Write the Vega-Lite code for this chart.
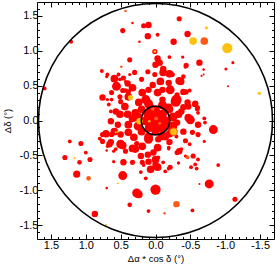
{
"$schema":"https://vega.github.io/schema/vega-lite/v6.json",
"width":237,"height":237,
"autosize":"none",
"padding":{"left":37,"top":2,"right":3,"bottom":28},
"config":{"view":{"stroke":null},"font":"Liberation Sans","locale":{"number":{"decimal":".","thousands":",","grouping":[3],"currency":["$",""],"minus":"-"}},
"axis":{"grid":false,"domainColor":"black","tickColor":"black","labelColor":"black","titleColor":"black","labelFontSize":11,"titleFontSize":9.5,"titleFontWeight":"normal","labelFlush":false,"tickWidth":1,"domainWidth":1}},
"datasets":{
"stars":[
{"x":1.21,"y":1.13,"m":1.5,"c":"r"},{"x":1.59,"y":0.46,"m":1.5,"c":"r"},{"x":0.33,"y":1.40,"m":1,"c":"r"},{"x":0.47,"y":1.29,"m":2,"c":"r"},{"x":0.37,"y":0.87,"m":2,"c":"r"},{"x":0.23,"y":1.13,"m":1,"c":"r"},{"x":0.77,"y":0.71,"m":1.5,"c":"r"},{"x":0.70,"y":0.63,"m":1.3,"c":"r"},{"x":0.59,"y":0.60,"m":3,"c":"r"},{"x":0.56,"y":0.49,"m":3.5,"c":"r"},{"x":0.43,"y":0.56,"m":1.2,"c":"r"},{"x":0.43,"y":0.43,"m":1.8,"c":"r"},{"x":0.76,"y":0.33,"m":2.5,"c":"r"},{"x":0.63,"y":0.30,"m":1.5,"c":"r"},{"x":0.51,"y":0.34,"m":2,"c":"r"},
{"x":0.17,"y":1.36,"m":2,"c":"r"},{"x":0.10,"y":1.37,"m":2.5,"c":"r"},{"x":-0.34,"y":1.46,"m":2,"c":"r"},{"x":0.11,"y":1.21,"m":2.5,"c":"r"},{"x":-0.03,"y":1.23,"m":1.5,"c":"r"},{"x":-0.46,"y":1.24,"m":2.5,"c":"r"},{"x":-0.26,"y":1.13,"m":2.5,"c":"r"},{"x":0.01,"y":0.99,"m":2,"c":"r"},{"x":-0.20,"y":0.91,"m":1.5,"c":"r"},{"x":-0.39,"y":0.91,"m":1.3,"c":"r"},{"x":-0.63,"y":0.83,"m":2.5,"c":"r"},{"x":-1.11,"y":0.83,"m":1.2,"c":"r"},{"x":-0.03,"y":0.89,"m":2.5,"c":"r"},{"x":-0.06,"y":0.83,"m":2.5,"c":"r"},{"x":-0.43,"y":0.77,"m":1.5,"c":"r"},{"x":-0.69,"y":0.73,"m":1,"c":"r"},{"x":-1.01,"y":0.74,"m":1.2,"c":"r"},{"x":-0.66,"y":0.64,"m":0.8,"c":"r"},{"x":-1.04,"y":0.49,"m":0.8,"c":"r"},{"x":-0.34,"y":0.57,"m":3,"c":"r"},{"x":-0.20,"y":0.67,"m":3,"c":"r"},{"x":-0.11,"y":0.74,"m":2.5,"c":"r"},{"x":-0.44,"y":0.41,"m":2,"c":"r"},{"x":-0.49,"y":0.43,"m":1.5,"c":"r"},{"x":-0.30,"y":0.30,"m":4,"c":"r"},{"x":-0.47,"y":0.20,"m":2.5,"c":"r"},{"x":-0.57,"y":0.24,"m":2.5,"c":"r"},{"x":-0.61,"y":0.19,"m":1.5,"c":"r"},{"x":-0.37,"y":0.13,"m":2.5,"c":"r"},{"x":-0.70,"y":0.03,"m":1.5,"c":"r"},{"x":-0.50,"y":0.01,"m":3.5,"c":"r"},{"x":-0.83,"y":-0.13,"m":3.5,"c":"r"},
{"x":-0.43,"y":-0.29,"m":2,"c":"r"},{"x":-0.30,"y":-0.23,"m":1.5,"c":"r"},{"x":-0.70,"y":-0.30,"m":1.2,"c":"r"},{"x":-0.20,"y":-0.31,"m":2.5,"c":"r"},{"x":-0.34,"y":-0.44,"m":2.5,"c":"r"},{"x":-0.37,"y":-0.41,"m":1.5,"c":"r"},{"x":-0.49,"y":-0.34,"m":1.5,"c":"r"},{"x":-0.61,"y":-0.56,"m":1.5,"c":"r"},{"x":-0.59,"y":-0.69,"m":1.5,"c":"r"},{"x":-0.51,"y":-0.67,"m":1.5,"c":"r"},{"x":-0.33,"y":-0.61,"m":1.3,"c":"r"},{"x":-0.19,"y":-0.41,"m":1.2,"c":"r"},{"x":-0.19,"y":-0.69,"m":1.5,"c":"r"},{"x":-0.90,"y":-0.64,"m":1.5,"c":"r"},{"x":-0.63,"y":-0.91,"m":0.8,"c":"r"},{"x":-0.77,"y":-0.91,"m":3.5,"c":"r"},{"x":0.00,"y":-0.99,"m":4,"c":"r"},{"x":0.24,"y":-1.06,"m":3,"c":"r"},{"x":-0.53,"y":-1.29,"m":1.5,"c":"r"},{"x":0.10,"y":-1.30,"m":1.5,"c":"r"},{"x":-1.14,"y":-1.13,"m":2,"c":"r"},{"x":0.17,"y":-0.64,"m":1.5,"c":"r"},{"x":0.27,"y":-0.33,"m":2,"c":"r"},
{"x":1.23,"y":-0.30,"m":1.5,"c":"r"},{"x":1.07,"y":-0.33,"m":2,"c":"r"},{"x":1.30,"y":-0.53,"m":2,"c":"r"},{"x":1.00,"y":-0.46,"m":1.5,"c":"r"},{"x":1.09,"y":-0.60,"m":1.8,"c":"r"},{"x":0.94,"y":-0.56,"m":2,"c":"r"},{"x":1.13,"y":-0.77,"m":2.8,"c":"r"},{"x":0.47,"y":-0.79,"m":3.5,"c":"r"},{"x":0.70,"y":-0.97,"m":1,"c":"r"},{"x":0.27,"y":-1.04,"m":3.5,"c":"r"},{"x":0.37,"y":-1.21,"m":1.8,"c":"r"},{"x":0.87,"y":-1.34,"m":2.5,"c":"r"},{"x":0.71,"y":-0.19,"m":3,"c":"r"},{"x":0.59,"y":-0.16,"m":3,"c":"r"},{"x":0.80,"y":-0.26,"m":1.5,"c":"r"},{"x":0.76,"y":-0.30,"m":2,"c":"r"},{"x":0.66,"y":-0.34,"m":2.5,"c":"r"},{"x":0.60,"y":-0.44,"m":1.3,"c":"r"},{"x":0.70,"y":-0.43,"m":1,"c":"r"},{"x":0.47,"y":-0.36,"m":3,"c":"r"},{"x":0.33,"y":-0.40,"m":3,"c":"r"},
{"x":0.69,"y":0.66,"m":1.5,"c":"r"},{"x":0.53,"y":0.66,"m":1.5,"c":"r"},{"x":0.51,"y":0.59,"m":1.5,"c":"r"},{"x":0.46,"y":0.61,"m":2,"c":"r"},{"x":0.40,"y":0.53,"m":2.5,"c":"r"},{"x":0.37,"y":0.66,"m":1.2,"c":"r"},{"x":0.30,"y":0.69,"m":2,"c":"r"},{"x":0.20,"y":0.59,"m":2,"c":"r"},{"x":0.33,"y":0.47,"m":3,"c":"r"},{"x":0.39,"y":0.41,"m":2,"c":"r"},{"x":0.47,"y":0.43,"m":2,"c":"r"},{"x":0.63,"y":0.40,"m":2,"c":"r"},{"x":0.69,"y":0.30,"m":1.3,"c":"r"},{"x":0.50,"y":0.27,"m":2,"c":"r"},{"x":0.39,"y":0.34,"m":3,"c":"r"},{"x":0.19,"y":0.40,"m":3,"c":"r"},{"x":0.10,"y":0.44,"m":2.5,"c":"r"},{"x":0.04,"y":0.51,"m":2.5,"c":"r"},{"x":0.01,"y":0.66,"m":2,"c":"r"},{"x":0.11,"y":0.70,"m":2,"c":"r"},{"x":0.00,"y":0.80,"m":2.5,"c":"r"},{"x":0.24,"y":0.26,"m":3,"c":"r"},{"x":0.14,"y":0.30,"m":3.5,"c":"r"},{"x":0.07,"y":0.19,"m":3,"c":"r"},{"x":0.44,"y":0.20,"m":3,"c":"r"},{"x":0.57,"y":0.13,"m":2.5,"c":"r"},{"x":0.67,"y":0.23,"m":1.5,"c":"r"},{"x":0.64,"y":0.13,"m":1.5,"c":"r"},{"x":0.51,"y":0.09,"m":3,"c":"r"},{"x":0.40,"y":0.09,"m":3,"c":"r"},{"x":0.29,"y":0.11,"m":3,"c":"r"},{"x":0.33,"y":0.03,"m":3,"c":"r"},
{"x":-0.04,"y":0.83,"m":2,"c":"r"},{"x":-0.44,"y":0.79,"m":2,"c":"r"},{"x":-0.11,"y":0.69,"m":3,"c":"r"},{"x":-0.24,"y":0.66,"m":2,"c":"r"},{"x":-0.40,"y":0.63,"m":1.8,"c":"r"},{"x":-0.69,"y":0.66,"m":0.8,"c":"r"},{"x":-0.36,"y":0.56,"m":3,"c":"r"},{"x":-0.07,"y":0.56,"m":3,"c":"r"},{"x":-0.19,"y":0.54,"m":2.5,"c":"r"},{"x":-0.21,"y":0.44,"m":3.5,"c":"r"},{"x":-0.10,"y":0.44,"m":2.5,"c":"r"},{"x":-0.40,"y":0.41,"m":2.5,"c":"r"},{"x":-0.31,"y":0.37,"m":2,"c":"r"},{"x":-0.29,"y":0.27,"m":4,"c":"r"},{"x":-0.46,"y":0.26,"m":2.5,"c":"r"},{"x":-0.56,"y":0.23,"m":2,"c":"r"},{"x":-0.60,"y":0.17,"m":2,"c":"r"},{"x":-0.40,"y":0.19,"m":2.5,"c":"r"},{"x":-0.19,"y":0.19,"m":3,"c":"r"},{"x":-0.61,"y":0.11,"m":1.5,"c":"r"},{"x":-0.47,"y":0.04,"m":3,"c":"r"},{"x":-0.33,"y":0.09,"m":3,"c":"r"},{"x":-0.10,"y":0.30,"m":2.5,"c":"r"},{"x":-0.03,"y":0.40,"m":3,"c":"r"},
{"x":0.64,"y":-0.01,"m":2.5,"c":"r"},{"x":0.54,"y":-0.06,"m":2.5,"c":"r"},{"x":0.39,"y":-0.06,"m":3,"c":"r"},{"x":0.76,"y":-0.20,"m":2,"c":"r"},{"x":0.63,"y":-0.20,"m":2,"c":"r"},{"x":0.50,"y":-0.20,"m":2.5,"c":"r"},{"x":0.39,"y":-0.17,"m":3,"c":"r"},{"x":0.31,"y":-0.24,"m":3,"c":"r"},{"x":0.64,"y":-0.31,"m":2.5,"c":"r"},{"x":0.50,"y":-0.34,"m":3.5,"c":"r"},{"x":0.69,"y":-0.37,"m":1.3,"c":"r"},{"x":0.57,"y":-0.41,"m":1.5,"c":"r"},{"x":0.43,"y":-0.44,"m":2,"c":"r"},{"x":0.29,"y":-0.41,"m":3,"c":"r"},{"x":0.19,"y":-0.37,"m":3,"c":"r"},{"x":0.10,"y":-0.27,"m":3.5,"c":"r"},{"x":0.21,"y":-0.51,"m":2.5,"c":"r"},{"x":0.11,"y":-0.49,"m":2.5,"c":"r"},{"x":0.03,"y":-0.46,"m":2.5,"c":"r"},{"x":0.60,"y":-0.59,"m":1.3,"c":"r"},{"x":0.46,"y":-0.60,"m":2.5,"c":"r"},{"x":0.33,"y":-0.60,"m":2,"c":"r"},{"x":0.19,"y":-0.60,"m":2,"c":"r"},{"x":0.10,"y":-0.59,"m":2.5,"c":"r"},{"x":0.07,"y":-0.70,"m":3,"c":"r"},{"x":0.00,"y":-0.63,"m":2.5,"c":"r"},{"x":0.21,"y":-0.74,"m":1.5,"c":"r"},{"x":0.14,"y":-0.83,"m":1.5,"c":"r"},
{"x":-0.04,"y":-0.06,"m":3,"c":"r"},{"x":-0.31,"y":-0.03,"m":2.5,"c":"r"},{"x":-0.61,"y":-0.06,"m":2.5,"c":"r"},{"x":-0.71,"y":-0.03,"m":1.5,"c":"r"},{"x":-0.19,"y":-0.09,"m":2.5,"c":"r"},{"x":-0.40,"y":-0.16,"m":2.5,"c":"r"},{"x":-0.53,"y":-0.17,"m":2,"c":"r"},{"x":-0.61,"y":-0.20,"m":2,"c":"r"},{"x":-0.14,"y":-0.23,"m":3,"c":"r"},{"x":-0.04,"y":-0.27,"m":2.5,"c":"r"},{"x":-0.03,"y":-0.39,"m":3,"c":"r"},{"x":-0.19,"y":-0.39,"m":1.5,"c":"r"},{"x":-0.31,"y":-0.46,"m":2,"c":"r"},{"x":-0.43,"y":-0.51,"m":1.3,"c":"r"},{"x":-0.54,"y":-0.51,"m":2,"c":"r"},{"x":-0.57,"y":-0.63,"m":1.5,"c":"r"},{"x":-0.04,"y":-0.53,"m":1.5,"c":"r"},{"x":-0.11,"y":-0.60,"m":1.5,"c":"r"},{"x":-0.21,"y":-0.67,"m":2,"c":"r"},{"x":-0.14,"y":-0.73,"m":1.5,"c":"r"},{"x":-0.03,"y":-0.67,"m":3,"c":"r"},{"x":0.00,"y":-0.56,"m":3,"c":"r"},
{"x":0,"y":0,"m":4,"c":"r"},{"x":0.11,"y":0.09,"m":3.5,"c":"r"},{"x":-0.10,"y":0.09,"m":3.5,"c":"r"},{"x":0.09,"y":-0.10,"m":3.5,"c":"r"},{"x":-0.09,"y":-0.10,"m":3.5,"c":"r"},{"x":0.16,"y":-0.01,"m":3,"c":"r"},{"x":-0.16,"y":0.00,"m":3,"c":"r"},{"x":0.00,"y":0.16,"m":3,"c":"r"},{"x":0.00,"y":-0.16,"m":3,"c":"r"},{"x":0.20,"y":0.16,"m":3,"c":"r"},{"x":-0.20,"y":0.16,"m":3,"c":"r"},{"x":0.20,"y":-0.16,"m":3,"c":"r"},{"x":-0.20,"y":-0.19,"m":3,"c":"r"},
{"x":0.05,"y":0.05,"m":4,"c":"r"},{"x":-0.05,"y":0.05,"m":4,"c":"r"},{"x":0.05,"y":-0.05,"m":4,"c":"r"},{"x":-0.05,"y":-0.05,"m":4,"c":"r"},{"x":0.12,"y":0.00,"m":4,"c":"r"},{"x":-0.12,"y":0.00,"m":4,"c":"r"},{"x":0.00,"y":0.12,"m":4,"c":"r"},{"x":0.00,"y":-0.12,"m":4,"c":"r"},{"x":0.25,"y":0.05,"m":3.5,"c":"r"},{"x":-0.25,"y":0.05,"m":3.5,"c":"r"},{"x":0.25,"y":-0.08,"m":3.5,"c":"r"},{"x":-0.25,"y":-0.08,"m":3.5,"c":"r"},{"x":0.10,"y":0.24,"m":3.5,"c":"r"},{"x":-0.10,"y":0.22,"m":3.5,"c":"r"},{"x":0.10,"y":-0.24,"m":3.5,"c":"r"},{"x":-0.10,"y":-0.22,"m":3.5,"c":"r"},
{"x":0.43,"y":1.57,"m":1,"c":"o"},{"x":0.49,"y":0.77,"m":1,"c":"o"},{"x":-0.70,"y":1.14,"m":3,"c":"o"},{"x":-0.26,"y":-0.16,"m":3.3,"c":"o"},{"x":-0.46,"y":-0.53,"m":1.5,"c":"o"},{"x":-0.30,"y":-1.20,"m":2.5,"c":"o"},{"x":-0.13,"y":-1.33,"m":1,"c":"o"},{"x":0.96,"y":-0.83,"m":1.8,"c":"o"},{"x":0.04,"y":0.17,"m":1.5,"c":"o"},{"x":-0.01,"y":0.03,"m":1.5,"c":"o"},{"x":-0.06,"y":-0.04,"m":1.2,"c":"o"},
{"x":0.36,"y":0.33,"m":2,"c":"y"},{"x":-0.73,"y":1.33,"m":1.2,"c":"y"},{"x":-0.54,"y":1.14,"m":3,"c":"y"},{"x":-1.03,"y":1.04,"m":4,"c":"y"},{"x":0.01,"y":0.99,"m":1,"c":"y"},{"x":-1.49,"y":0.39,"m":1.3,"c":"y"},{"x":-0.26,"y":-0.16,"m":2.5,"c":"y"},{"x":0.23,"y":-0.01,"m":2.5,"c":"y"},{"x":1.16,"y":-0.54,"m":0.8,"c":"y"},{"x":0.54,"y":-0.90,"m":0.8,"c":"y"},{"x":0.71,"y":-1.50,"m":0.8,"c":"y"},{"x":0.54,"y":-0.16,"m":0.8,"c":"y"},{"x":0.57,"y":-0.17,"m":0.8,"c":"y"},{"x":0.09,"y":-0.01,"m":1,"c":"y"}
],
"origin":[{"x":0,"y":0}]
},
"resolve":{"axis":{"x":"independent","y":"independent"}},
"layer":[
{"data":{"name":"stars"},"transform":[{"filter":"datum.c === 'r'"}],
"mark":{"type":"point","shape":"circle","filled":true,"opacity":1,"strokeWidth":0},
"encoding":{
"x":{"field":"x","type":"quantitative","scale":{"domain":[-1.7,1.7],"reverse":true,"nice":false,"zero":false},
"axis":{"orient":"bottom","values":[-1.5,-1,-0.5,0,0.5,1,1.5],"format":".1f","tickSize":-5,"labelPadding":5,"title":"Δα * cos δ (°)","titlePadding":3}},
"y":{"field":"y","type":"quantitative","scale":{"domain":[-1.7,1.7],"nice":false,"zero":false},
"axis":{"orient":"left","values":[-1.5,-1,-0.5,0,0.5,1,1.5],"format":".1f","tickSize":-5,"labelPadding":4,"title":"Δδ (°)","titlePadding":7}},
"size":{"field":"m","type":"quantitative","scale":{"type":"pow","exponent":2,"domain":[0,4],"range":[0,105]},"legend":null},
"color":{"field":"c","type":"nominal","scale":{"domain":["r","o","y"],"range":["#ff0000","#ff5a1a","#ffc010"]},"legend":null}}},
{"data":{"name":"stars"},"transform":[{"filter":"datum.c !== 'r'"}],
"mark":{"type":"point","shape":"circle","filled":true,"opacity":1,"strokeWidth":0},
"encoding":{
"x":{"field":"x","type":"quantitative","axis":{"orient":"top","values":[-1.5,-1,-0.5,0,0.5,1,1.5],"tickSize":-5,"labels":false,"title":null}},
"y":{"field":"y","type":"quantitative","axis":{"orient":"right","values":[-1.5,-1,-0.5,0,0.5,1,1.5],"tickSize":-5,"labels":false,"title":null}},
"size":{"field":"m","type":"quantitative","legend":null},
"color":{"field":"c","type":"nominal","legend":null}}},
{"data":{"name":"origin"},
"mark":{"type":"point","shape":"circle","filled":false,"color":"black","opacity":1,"strokeWidth":1.6,"size":54756},
"encoding":{
"x":{"field":"x","type":"quantitative","axis":{"orient":"bottom","values":[-1.6,-1.4,-1.3,-1.2,-1.1,-0.9,-0.8,-0.7,-0.6,-0.4,-0.3,-0.2,-0.1,0.1,0.2,0.3,0.4,0.6,0.7,0.8,0.9,1.1,1.2,1.3,1.4,1.6],"tickSize":-2.5,"labels":false,"domain":false,"title":null}},
"y":{"field":"y","type":"quantitative","axis":{"orient":"left","values":[-1.6,-1.4,-1.3,-1.2,-1.1,-0.9,-0.8,-0.7,-0.6,-0.4,-0.3,-0.2,-0.1,0.1,0.2,0.3,0.4,0.6,0.7,0.8,0.9,1.1,1.2,1.3,1.4,1.6],"tickSize":-2.5,"labels":false,"domain":false,"title":null}}}},
{"data":{"name":"origin"},
"mark":{"type":"point","shape":"circle","filled":false,"color":"black","opacity":1,"strokeWidth":1.6,"size":810},
"encoding":{
"x":{"field":"x","type":"quantitative","axis":{"orient":"top","values":[-1.6,-1.4,-1.3,-1.2,-1.1,-0.9,-0.8,-0.7,-0.6,-0.4,-0.3,-0.2,-0.1,0.1,0.2,0.3,0.4,0.6,0.7,0.8,0.9,1.1,1.2,1.3,1.4,1.6],"tickSize":-2.5,"labels":false,"domain":false,"title":null}},
"y":{"field":"y","type":"quantitative","axis":{"orient":"right","values":[-1.6,-1.4,-1.3,-1.2,-1.1,-0.9,-0.8,-0.7,-0.6,-0.4,-0.3,-0.2,-0.1,0.1,0.2,0.3,0.4,0.6,0.7,0.8,0.9,1.1,1.2,1.3,1.4,1.6],"tickSize":-2.5,"labels":false,"domain":false,"title":null}}}}
]
}
